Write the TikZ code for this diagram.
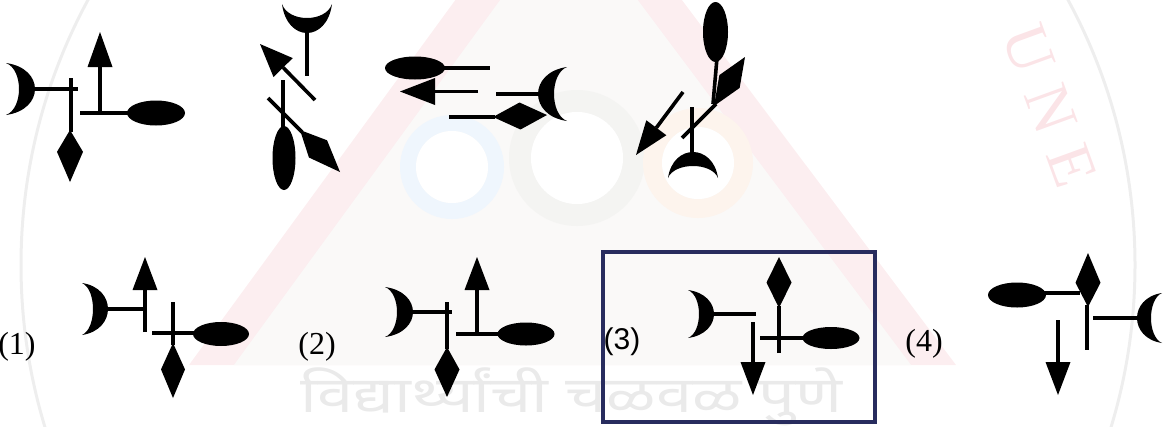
\documentclass[tikz,border=0pt]{standalone}
\usepackage{fontspec}
\setmainfont{Liberation Serif}
\newfontfamily\lsans{Liberation Sans}
\newfontfamily\deva[Script=Devanagari]{Noto Sans}
\usetikzlibrary{calc}
\definecolor{navy}{RGB}{40,44,94}
\definecolor{wmpink}{RGB}{252,238,240}
\definecolor{wmin}{RGB}{250,249,248}
\definecolor{wmblue}{RGB}{239,246,253}
\definecolor{wmgray}{RGB}{244,244,242}
\definecolor{wmorange}{RGB}{253,244,237}
\definecolor{wmtext}{RGB}{234,234,234}
\definecolor{wmring}{RGB}{238,238,238}
\definecolor{wmletter}{RGB}{251,228,231}
\tikzset{
  stick/.style={line width=3.6pt},
  lab/.style={inner sep=0pt, font=\fontsize{32}{36}\selectfont},
  labsans/.style={inner sep=0pt, font=\lsans\fontsize{30}{34}\selectfont},
  wmlet/.style={inner sep=0pt, text=wmletter, font=\fontsize{64}{64}\selectfont}
}
% arrow: tail, tip, head length, half width
\newcommand\myarrow[4]{%
  \draw[stick] (#1) -- ($(#2)!#3pt!(#1)$);
  \fill (#2) -- ($(#2)!#3pt!(#1)!#4pt!90:(#1)$) -- ($(#2)!#3pt!(#1)!#4pt!-90:(#1)$) -- cycle;}
% diamond: base, tip, fraction of widest point, half width
\newcommand\mydiamond[4]{%
  \fill (#1) -- ($(#1)!#3!(#2)!#4pt!90:(#2)$) -- (#2) -- ($(#1)!#3!(#2)!#4pt!-90:(#2)$) -- cycle;}
% crescent, horns vertical: x0, yc, h, w (signed bulge), t (signed thickness)
\newcommand\mycresH[5]{%
  \fill (#1,{#2-#3}) .. controls ({#1+4/3*(#4)},{#2-0.8*#3}) and ({#1+4/3*(#4)},{#2+0.8*#3}) .. (#1,{#2+#3})
    .. controls ({#1+4/3*(#4-#5)},{#2+0.75*#3}) and ({#1+4/3*(#4-#5)},{#2-0.75*#3}) .. cycle;}
% crescent, horns horizontal: xc, y0, h, w, t
\newcommand\mycresV[5]{%
  \fill ({#1-#3},#2) .. controls ({#1-0.8*#3},{#2+4/3*(#4)}) and ({#1+0.8*#3},{#2+4/3*(#4)}) .. ({#1+#3},#2)
    .. controls ({#1+0.75*#3},{#2+4/3*(#4-#5)}) and ({#1-0.75*#3},{#2+4/3*(#4-#5)}) .. cycle;}
\begin{document}
\begin{tikzpicture}[x=1pt,y=-1pt]
\useasboundingbox (0,0) rectangle (1165,426);
% ---------- faint watermark ----------
\begin{scope}
\clip (0,0) rectangle (1165,426);
\fill[wmpink] (567,-153) -- (189,365) -- (956,365) -- cycle;
\fill[wmin] (568,-93) -- (234,365) -- (911,365) -- cycle;
\fill[wmblue, even odd rule] (452,167) circle [radius=52pt] (452,167) circle [radius=36pt];
\fill[wmgray, even odd rule] (577,158) circle [radius=68pt] (577,158) circle [radius=46pt];
\fill[wmorange, even odd rule] (698,163) circle [radius=55pt] (698,163) circle [radius=36pt];
\fill[white] (452,167) circle [radius=36pt] (577,158) circle [radius=46pt] (698,163) circle [radius=36pt];
\draw[wmring, line width=3pt] (578,265) circle [radius=557pt];
\node[inner sep=0pt, anchor=base west, text=wmtext, font=\deva\fontsize{50}{54}\selectfont, xscale=1.3, transform shape] (wmt) at (300,412) {विद्यार्थ्यांची चळवळ पुणे};
\node[wmlet, rotate=-70] (wune) at (1050,106) {U\kern18pt N\kern18pt E};
\end{scope}
% ---------- question figure 1 ----------
\mycresH{6}{89}{26}{29}{16}
\draw[stick] (35,89) -- (78,89);
\draw[stick] (71,78) -- (71,132);
\mydiamond{70,130}{70,182}{0.42}{13}
\myarrow{100,113}{100,32}{35}{12.5}
\draw[stick] (80,113) -- (130,113);
\fill (156,113) ellipse [x radius=29pt, y radius=12.5pt];
% ---------- question figure 2 ----------
\mycresV{307}{4}{25}{29}{15}
\draw[stick] (307,30) -- (307,76);
\myarrow{315,100}{260,44}{33}{13.5}
\draw[stick] (283,80) -- (283,128);
\fill (284,158) ellipse [x radius=11.5pt, y radius=32pt];
\draw[stick] (268,98) -- (302,132);
\mydiamond{300,130}{340,172}{0.45}{12.5}
% ---------- question figure 3 ----------
\fill (415,68) ellipse [x radius=30pt, y radius=11.5pt];
\draw[stick] (443,68) -- (490,68);
\myarrow{478,91.5}{400,91.5}{35}{13.5}
\mycresH{567}{94}{27}{-29}{-16}
\draw[stick] (540,94) -- (496,94);
\draw[stick] (449,117) -- (495,117);
\mydiamond{493,117}{547,115}{0.5}{13.5}
% ---------- question figure 4 ----------
\fill (715.5,32) ellipse [x radius=12.5pt, y radius=30pt];
\draw[stick] (717,58) -- (713,104);
\draw[stick] (682,138) -- (716,104);
\mydiamond{714,106}{745,57}{0.5}{12}
\draw[stick] (692,107) -- (692,154);
\mycresV{693}{178}{25}{-26}{-14}
\myarrow{683,92}{636,155}{34}{12.5}
% ---------- answer (1) ----------
\node[lab] (l1) at (17,347) {(1)};
\mycresH{82}{309}{26}{26}{15}
\draw[stick] (105,309) -- (147,309);
\myarrow{145,332}{145,257}{33}{12.5}
\draw[stick] (173,302) -- (173,345);
\mydiamond{173,343}{173,398}{0.48}{12}
\draw[stick] (152,333) -- (195,333);
\fill (221,334) ellipse [x radius=28pt, y radius=12pt];
% ---------- answer (2) ----------
\node[lab] (l2) at (317,347) {(2)};
\mycresH{385}{312}{25}{28}{16}
\draw[stick] (410,312) -- (452,312);
\draw[stick] (447,302) -- (447,349);
\mydiamond{447,347}{447,397}{0.45}{12.5}
\myarrow{477,334}{477,257}{33}{12.5}
\draw[stick] (456,334) -- (500,334);
\fill (526,334) ellipse [x radius=28.5pt, y radius=11.5pt];
% ---------- answer (3) ----------
\draw[navy, line width=3.6pt] (603,252) rectangle (875,422);
\node[labsans] (l3) at (622,342) {(3)};
\mycresH{688}{314}{24}{26}{15}
\draw[stick] (711,314) -- (756,314);
\myarrow{753,322}{753,395}{33}{12.5}
\draw[stick] (779,353) -- (779,306);
\mydiamond{779,308}{779,257}{0.5}{12.5}
\draw[stick] (760,338) -- (805,338);
\fill (831,338) ellipse [x radius=28.5pt, y radius=11pt];
% ---------- answer (4) ----------
\node[lab] (l4) at (924,344) {(4)};
\fill (1017,295) ellipse [x radius=29pt, y radius=12.5pt];
\draw[stick] (1044,293) -- (1080,293);
\mydiamond{1088,307}{1088,253}{0.45}{12.5}
\draw[stick] (1087,305) -- (1087,350);
\draw[stick] (1093,318) -- (1140,318);
\mycresH{1162}{318}{25}{-25}{-14}
\myarrow{1058,320}{1058,395}{33}{12.5}
\end{tikzpicture}
\end{document}
